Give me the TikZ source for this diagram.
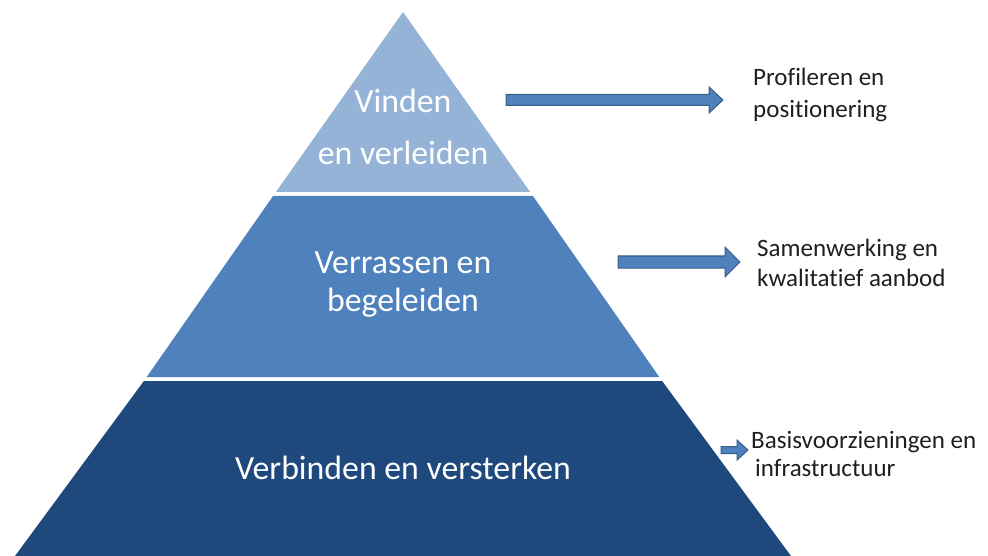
\documentclass[tikz,border=0pt]{standalone}
\usepackage{fontspec}
\setmainfont{Carlito}[Ligatures=NoCommon]
\begin{document}
\begin{tikzpicture}[x=1pt,y=-1pt,
  tiertext/.style={text=white,font=\fontsize{33.8}{38}\selectfont,align=center,inner sep=0pt},
  sidetext/.style={text=black!88,font=\fontsize{25}{30}\selectfont,align=left,anchor=west,inner sep=0pt},
  blockarrow/.style={fill=arrowblue,draw=arrowedge,line width=1pt,line join=miter}]
\definecolor{tierA}{HTML}{95B3D7}
\definecolor{tierB}{HTML}{4F81BD}
\definecolor{tierC}{HTML}{1F497D}
\definecolor{arrowblue}{HTML}{4F81BD}
\definecolor{arrowedge}{HTML}{385D8A}
\useasboundingbox (0,0) rectangle (988,556);
% tiers
\fill[tierA] (403,12) -- (530.1,192) -- (275.9,192) -- cycle;
\fill[tierB] (532.9,196) -- (659.3,377) -- (146.7,377) -- (273.1,196) -- cycle;
\fill[tierC] (662.1,381) -- (791,556) -- (15,556) -- (143.9,381) -- cycle;
% tier texts
\node[tiertext] (t1a) at (403,101) {Vinden};
\node[tiertext] (t1b) at (403,153) {en verleiden};
\node[tiertext] (t2) at (403,285) {Verrassen en\\begeleiden};
\node[tiertext] (t3) at (403,468) {Verbinden en versterken};
% arrows
\draw[blockarrow] (506,94.5) -- (709,94.5) -- (709,87) -- (723,100) -- (709,113) -- (709,105.5) -- (506,105.5) -- cycle;
\draw[blockarrow] (618,256) -- (725,256) -- (725,247) -- (740,262) -- (725,277) -- (725,268) -- (618,268) -- cycle;
\draw[blockarrow] (721,446.5) -- (737,446.5) -- (737,440) -- (748,450) -- (737,460) -- (737,453.5) -- (721,453.5) -- cycle;
% side texts
\node[sidetext,font=\fontsize{25}{32}\selectfont] (s1) at (753,95) {Profileren en\\positionering};
\node[sidetext] (s2) at (757,263) {Samenwerking en\\kwalitatief aanbod};
\node[sidetext,font=\fontsize{25}{28.5}\selectfont] (s3) at (751,454) {Basisvoorzieningen en\\\hspace{4pt}infrastructuur};
\end{tikzpicture}
\end{document}
